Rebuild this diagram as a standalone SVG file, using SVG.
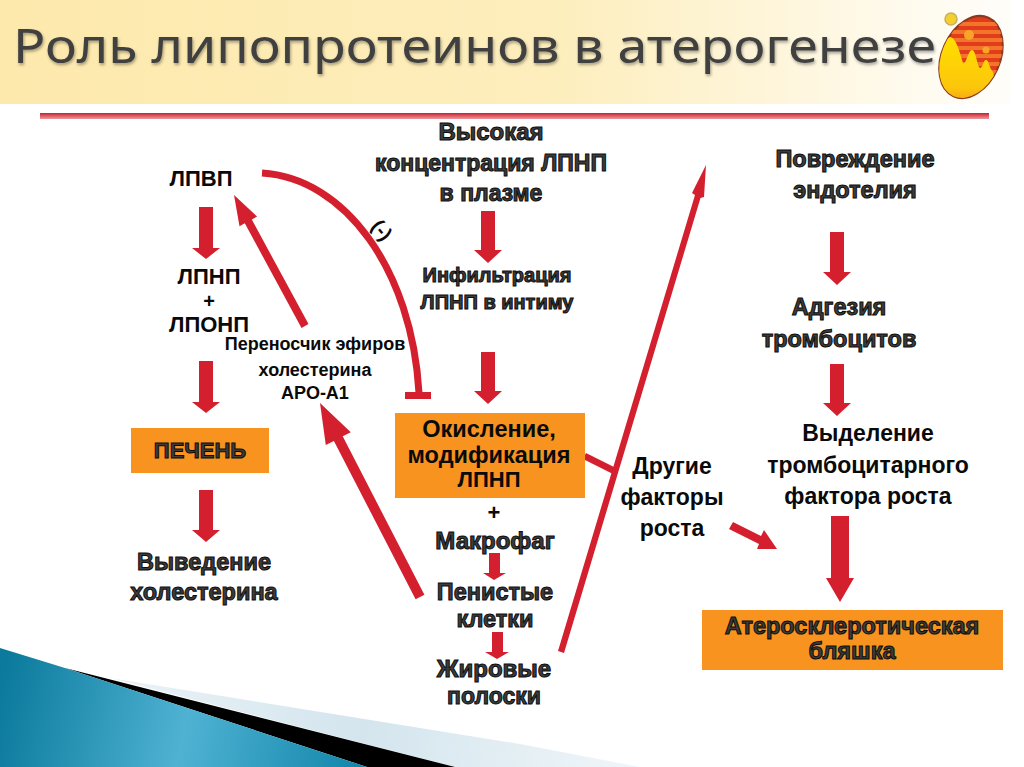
<svg xmlns="http://www.w3.org/2000/svg" width="1024" height="767" viewBox="0 0 1024 767">
<style>
text{font-family:"Liberation Sans",Arial,sans-serif;font-weight:700;text-anchor:middle;fill:#0a0a0a}
.o{fill:#3c3c3c;stroke:#0c0c0c;stroke-width:1}
.s18{font-size:18px}.s20{font-size:20px}.s22{font-size:22px}.s23{font-size:23px}.s235{font-size:23.5px}.s24{font-size:24px}
.box{fill:#f7931e}
.a{fill:#d4202e;stroke:none}
.l{fill:none;stroke:#d4202e}
.title{font-family:"Noto Sans","DejaVu Sans",sans-serif;font-weight:400;font-size:47px;text-anchor:start;fill:#404040;filter:url(#ts)}
</style>
<defs>
<linearGradient id="hdr" x1="0" x2="1" y1="0" y2="0"><stop offset="0" stop-color="#fde9ac"/><stop offset=".55" stop-color="#fdeebd"/><stop offset=".98" stop-color="#fffdf8"/></linearGradient>
<linearGradient id="blue" gradientUnits="userSpaceOnUse" x1="0" y1="690" x2="370" y2="767"><stop offset="0" stop-color="#0b7a9c"/><stop offset=".5" stop-color="#4fb2d3"/><stop offset="1" stop-color="#0f84a8"/></linearGradient>
<linearGradient id="pale" gradientUnits="userSpaceOnUse" x1="110" y1="680" x2="620" y2="767"><stop offset="0" stop-color="#eaf3f7"/><stop offset=".5" stop-color="#d4e5ee"/><stop offset="1" stop-color="#eef5f8"/></linearGradient>
<linearGradient id="line" x1="0" x2="0" y1="0" y2="1"><stop offset="0" stop-color="#c8202e"/><stop offset="1" stop-color="#ee9aa0"/></linearGradient>
<linearGradient id="yel" x1="0" x2="0" y1="0" y2="1"><stop offset="0" stop-color="#ffdf00"/><stop offset=".75" stop-color="#fcc60c"/><stop offset="1" stop-color="#f49a18"/></linearGradient>
<clipPath id="egg"><ellipse cx="971" cy="57" rx="29" ry="43" transform="rotate(24 971 57)"/></clipPath>
<filter id="ts" x="-2%" y="-20%" width="104%" height="150%"><feDropShadow dx="1" dy="2" stdDeviation="1.5" flood-color="#000" flood-opacity=".35"/></filter>
</defs>
<rect width="1024" height="767" fill="#fff"/>
<g id="header">
<rect x="0" y="0" width="1010" height="104" fill="url(#hdr)"/>
<text class="title" x="13" y="63" textLength="923" lengthAdjust="spacingAndGlyphs">Роль липопротеинов в атерогенезе</text>
<rect x="40" y="113" width="949" height="6" fill="url(#line)"/>
</g>
<g id="logo">
<circle cx="951" cy="19" r="6" fill="#f3cf30" stroke="#c8b060" stroke-width="1.5"/>
<ellipse cx="971" cy="57" rx="29" ry="43" transform="rotate(24 971 57)" fill="#e23c1c" stroke="#8a3a20" stroke-width="2"/>
<g clip-path="url(#egg)" fill="#f2762a">
<rect x="930" y="22" width="80" height="4"/><rect x="930" y="30" width="80" height="4"/><rect x="930" y="38" width="80" height="4"/><rect x="930" y="46" width="80" height="4"/><rect x="930" y="54" width="80" height="4"/><rect x="930" y="62" width="80" height="4"/><rect x="930" y="70" width="80" height="4"/>
<path d="M950,37 C956,38 959,50 963,63 C966,66 968,50 972,50 C976,50 977,66 980,68 C983,68 983,60 986,60 C989,60 989,68 993,72 L1000,100 L930,105 L930,50Z" fill="url(#yel)"/>
</g>
<circle cx="969" cy="35" r="5" fill="#f8a428"/><circle cx="986" cy="50" r="3.5" fill="#f8a428"/>
</g>
<g id="decor">
<polygon points="110,678 520,744 640,767 455,767" fill="url(#pale)"/>
<polygon points="65,668 455,767 367,767" fill="#000"/>
<polygon points="0,648 65,668 367,767 0,767" fill="url(#blue)"/>
</g>
<g id="connectors">
<polygon class="a" points="199,207 213,207 213,248 220,248 206,259 192,248 199,248"/>
<polygon class="a" points="199,361 213,361 213,402 220,402 206,413 192,402 199,402"/>
<polygon class="a" points="199,490 213,490 213,530 220,530 206,542 192,530 199,530"/>
<polygon class="a" points="481,211 495,211 495,250 502,250 488,263 474,250 481,250"/>
<polygon class="a" points="481,352 495,352 495,391 502,391 488,404 474,391 481,391"/>
<polygon class="a" points="489,553 500,553 500,573 506,573 494,580 483,573 489,573"/>
<polygon class="a" points="492,632 503,632 503,652 509,652 497,659 485,652 492,652"/>
<polygon class="a" points="830,232 844,232 844,272 851,272 837,285 823,272 830,272"/>
<polygon class="a" points="830,364 844,364 844,403 851,403 837,416 823,403 830,403"/>
<polygon class="a" points="831,516 849,516 849,578 854,578 840,602 826,578 831,578"/>
<path class="l" stroke-width="7" d="M262,173 C345,178 412,270 419,393"/>
<rect class="a" x="405" y="392" width="26" height="7"/>
<polygon class="a" points="301.5,327.9 308.5,324.1 251.8,219.5 257.1,216.6 234,195 239.5,226.2 244.8,223.3"/>
<polygon class="a" points="415.6,599.3 424.4,594.7 342.7,436.3 350.8,432.2 320,403 325.8,445 333.9,440.9"/>
<polygon class="a" points="558,651 564,653 700.5,198 704,197 706,165 692,193 695,195"/>
<polygon class="a" points="583,459 586,453 616,468 613,474"/>
<polygon class="a" points="729,529 733,522 761,536 764,530 777,549 757,549 759,544"/>
</g>
<g id="n-lpvp"><text class="s22" x="201" y="186">ЛПВП</text></g>
<g id="n-lpnp"><text class="s22" x="209" y="284">ЛПНП</text><text class="s20" x="209" y="307.5">+</text><text class="s22" x="209" y="331.5">ЛПОНП</text></g>
<g id="n-apo"><text class="s18" x="315" y="350">Переносчик эфиров</text><text class="s18" x="315" y="376">холестерина</text><text class="s18" x="315" y="399">АРО-А1</text></g>
<g id="n-minus"><text class="s20" x="382" y="237" transform="rotate(50 382 230)">(-)</text></g>
<g id="n-liver"><rect class="box" x="131" y="428" width="138" height="45"/><text class="s22 o" x="200" y="458">ПЕЧЕНЬ</text></g>
<g id="n-excr"><text class="s235 o" x="204" y="570">Выведение</text><text class="s235 o" x="204" y="600">холестерина</text></g>
<g id="n-high"><text class="s24 o" x="491" y="140">Высокая</text><text class="s23 o" x="491" y="171">концентрация ЛПНП</text><text class="s23 o" x="491" y="201">в плазме</text></g>
<g id="n-infil"><text class="s20 o" x="497" y="282">Инфильтрация</text><text class="s20 o" x="497" y="309">ЛПНП в интиму</text></g>
<g id="n-oxid"><rect class="box" x="395" y="413" width="190" height="85"/><text class="s235" x="489" y="437">Окисление,</text><text class="s235" x="489" y="463">модификация</text><text class="s22" x="489" y="487">ЛПНП</text></g>
<g id="n-macro"><text class="s22" x="494" y="520">+</text><text class="s24 o" x="495" y="549">Макрофаг</text></g>
<g id="n-foam"><text class="s235 o" x="495" y="600">Пенистые</text><text class="s235 o" x="495" y="627">клетки</text></g>
<g id="n-strip"><text class="s24 o" x="494" y="677">Жировые</text><text class="s23 o" x="494" y="704">полоски</text></g>
<g id="n-other"><text class="s23" x="672" y="474">Другие</text><text class="s23" x="672" y="505">факторы</text><text class="s23" x="672" y="536">роста</text></g>
<g id="n-dmg"><text class="s235 o" x="855" y="167">Повреждение</text><text class="s235 o" x="855" y="198">эндотелия</text></g>
<g id="n-adh"><text class="s235 o" x="839" y="315">Адгезия</text><text class="s235 o" x="839" y="347">тромбоцитов</text></g>
<g id="n-pdgf"><text class="s23" x="868" y="441">Выделение</text><text class="s23" x="868" y="473">тромбоцитарного</text><text class="s23" x="868" y="504">фактора роста</text></g>
<g id="n-plaque"><rect class="box" x="702" y="610" width="301" height="60"/><text class="s235 o" x="852" y="634">Атеросклеротическая</text><text class="s235 o" x="852" y="659">бляшка</text></g>
</svg>
